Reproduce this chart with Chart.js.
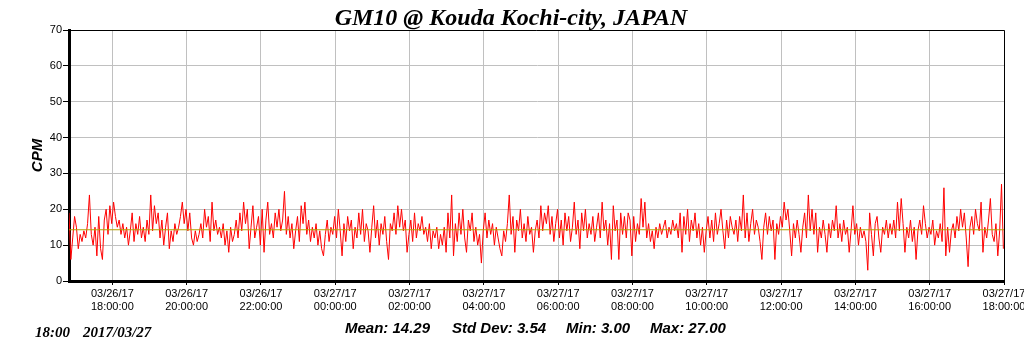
<!DOCTYPE html>
<html>
<head>
<meta charset="utf-8">
<script src="https://cdn.jsdelivr.net/npm/chart.js@4"></script>
<style>
  html, body { margin: 0; padding: 0; background: #fff; }
  #wrap { width: 1024px; height: 351px; }
</style>
</head>
<body>
<div id="wrap"><canvas id="cpmChart" width="1024" height="351"></canvas></div>
<script>
// CPM readings, one every 3 minutes from 03/26/17 16:50 to 03/27/17 18:00
const startMinute = 16 * 60 + 50;   // minutes after 03/26 00:00
const endMinute = 42 * 60;          // 03/27 18:00
const stepMinutes = 3;
const cpmValues = [
  19, 6, 12, 18, 15, 9, 13, 11, 14, 12,
  16, 24, 13, 10, 15, 7, 18, 9, 6, 17,
  20, 13, 21, 16, 22, 18, 15, 17, 13, 16,
  12, 15, 10, 14, 19, 11, 16, 13, 18, 12,
  15, 11, 17, 13, 24, 14, 21, 16, 19, 12,
  17, 10, 15, 19, 9, 14, 11, 16, 13, 15,
  18, 22, 16, 20, 14, 19, 12, 10, 14, 11,
  13, 16, 12, 20, 15, 18, 11, 22, 14, 17,
  13, 15, 12, 16, 10, 14, 8, 15, 11, 13,
  17, 12, 19, 14, 22, 16, 20, 9, 15, 21,
  12, 15,
  18, 10, 20, 8, 17, 22, 13, 16, 12, 19,
  15, 20, 14, 17, 25, 13, 18, 12, 16, 9,
  14, 18, 11, 21, 16, 22, 13, 17, 11, 15,
  12, 16, 10, 14, 9, 7, 13, 17, 11, 15,
  13, 18, 12, 20, 14, 7, 16, 11, 18, 14,
  17, 9, 15, 12, 19, 13, 20, 11, 16, 14,
  8, 15, 21, 12, 17, 10, 16, 13, 18, 11,
  6, 16, 14, 19, 13, 21, 15, 20, 14, 17,
  8, 13, 17, 11, 19, 12, 16, 14, 18, 13,
  15, 11, 16, 9, 14, 12, 15, 9, 13, 10,
  15, 8, 19, 12, 24, 7, 16, 11, 19, 13,
  20, 12, 8, 17, 14, 19, 11, 15, 10, 13,
  5, 14, 19, 12, 17, 13, 16, 10, 15, 12,
  9, 7, 14, 11, 16, 24, 13, 18, 8, 17,
  14, 20, 12, 16, 11, 18, 13, 15, 8, 14,
  17, 12, 21, 14, 19, 16, 21, 13, 18, 11,
  16, 20, 12, 17, 10, 19, 14, 18, 11, 15,
  22, 13, 17, 9, 19, 14, 20, 12, 16, 13,
  18, 11, 15, 19, 12, 22, 14, 17, 10, 16,
  6, 21, 14, 17, 6, 19, 13, 18, 12, 19,
  17, 7, 18, 11, 16, 13, 23, 15, 22, 12,
  16, 11, 14, 9, 15, 12, 16, 13, 15, 17,
  12, 15, 13, 17, 14, 16, 12, 19, 8, 18,
  13, 20, 11, 17, 14, 19, 12, 16, 10, 15,
  8, 14, 18, 12, 17, 11, 19, 13, 16, 20,
  14, 9, 17, 12, 18, 15, 13, 17, 11, 18,
  14, 24, 12, 19, 11, 16, 20, 13, 17, 15,
  11, 6, 15, 19, 13, 18, 14, 17, 6, 16,
  13, 18, 15, 22, 17, 20, 14, 7, 16, 12,
  17, 13, 8, 15, 19, 12, 24, 14, 20, 13,
  19, 8, 15, 12, 17, 13, 8, 16, 12, 17,
  14, 21, 12, 16, 11, 17, 13, 15, 8, 14,
  21, 13, 16, 10, 15, 12, 14, 11, 3, 19,
  13, 7, 16, 18, 12, 8, 15, 13, 17, 12,
  16, 13, 17, 12, 22, 14, 23, 16, 8, 15,
  12, 17, 11, 15, 6, 14, 17, 13, 21, 16,
  12, 15, 13, 17, 10, 14, 12, 16, 11, 26,
  7, 15, 8, 14, 16, 12, 18, 14, 20, 15,
  19, 12, 4, 15, 18, 13, 20, 16, 14, 22,
  8, 15, 12, 17, 23, 13, 11, 16, 7, 14,
  27, 9
];

// summary figures printed under the chart
const statLabels = ['Mean', 'Std Dev', 'Min', 'Max'];
const statValues = [14.29, 3.54, 3.00, 27.00];
const yTicks = [0, 10, 20, 30, 40, 50, 60, 70];
const xTickMinutes = [1080, 1200, 1320, 1440, 1560, 1680, 1800, 1920, 2040, 2160, 2280, 2400, 2520];

const pad = n => String(n).padStart(2, '0');
function tickLabel(v) {
  const day = 26 + Math.floor(v / 1440);
  const m = v % 1440;
  return ['03/' + day + '/17', pad(Math.floor(m / 60)) + ':' + pad(m % 60) + ':00'];
}

const points = cpmValues.map((v, i) => ({ x: startMinute + i * stepMinutes, y: v }));
const meanLine = [{ x: startMinute, y: statValues[0] }, { x: endMinute, y: statValues[0] }];

// title, footer texts + thin top/right frame
const extras = {
  id: 'extras',
  afterDraw(chart) {
    const { ctx, chartArea: a } = chart;
    ctx.save();
    ctx.strokeStyle = '#000';
    ctx.lineWidth = 1;
    ctx.beginPath();
    ctx.moveTo(a.left, a.top + 0.5);
    ctx.lineTo(a.right + 0.5, a.top + 0.5);
    ctx.lineTo(a.right + 0.5, a.bottom);
    ctx.stroke();

    ctx.fillStyle = '#000';
    ctx.textBaseline = 'alphabetic';
    ctx.textAlign = 'center';
    ctx.font = 'italic bold 24px "Liberation Serif"';
    ctx.fillText('GM10 @ Kouda Kochi-city, JAPAN', 511, 25);

    ctx.textAlign = 'left';
    ctx.font = 'italic bold 15px "Liberation Serif"';
    ctx.fillText('18:00', 35, 337);
    ctx.fillText('2017/03/27', 83, 337);

    ctx.font = 'italic bold 15px "Liberation Sans"';
    const xs = [345, 452, 566, 650];
    statLabels.forEach((lab, i) => {
      ctx.fillText(lab + ': ' + statValues[i].toFixed(2), xs[i], 333);
    });
    ctx.restore();
  }
};

new Chart(document.getElementById('cpmChart').getContext('2d'), {
  type: 'line',
  data: {
    datasets: [
      {
        label: 'Mean',
        data: meanLine,
        borderColor: '#b4a000',
        borderWidth: 1,
        pointRadius: 0,
        order: 0
      },
      {
        label: 'CPM',
        data: points,
        borderColor: '#ff0000',
        borderWidth: 1,
        pointRadius: 0,
        tension: 0,
        order: 1
      }
    ]
  },
  options: {
    responsive: false,
    animation: false,
    layout: { padding: { left: 0, right: 20, top: 30, bottom: 30 } },
    plugins: {
      legend: { display: false },
      tooltip: { enabled: false },
      title: { display: false }
    },
    scales: {
      x: {
        type: 'linear',
        min: startMinute,
        max: endMinute,
        afterBuildTicks: s => { s.ticks = xTickMinutes.map(v => ({ value: v })); },
        afterFit: s => { s.height = 40; s.paddingLeft = 0; s.paddingRight = 0; },
        ticks: {
          autoSkip: false,
          maxRotation: 0,
          color: '#000',
          padding: 2,
          font: { family: '"Liberation Sans"', size: 11, lineHeight: 1.2 },
          callback: v => tickLabel(v)
        },
        grid: { color: '#c0c0c0', tickColor: '#000', tickLength: 4 },
        border: { color: '#000', width: 3 }
      },
      y: {
        min: 0,
        max: 70,
        afterBuildTicks: s => { s.ticks = yTicks.map(v => ({ value: v })); },
        afterFit: s => { s.width = 69; s.paddingTop = 0; s.paddingBottom = 0; },
        ticks: {
          color: '#000',
          padding: 1,
          font: { family: '"Liberation Sans"', size: 11 }
        },
        grid: { color: '#c0c0c0', tickColor: '#000', tickLength: 6 },
        border: { color: '#000', width: 3 },
        title: {
          display: true,
          text: 'CPM',
          color: '#000',
          font: { family: '"Liberation Sans"', size: 15, style: 'italic', weight: 'bold', lineHeight: 1.2 },
          padding: { top: 29, bottom: 0 }
        }
      }
    }
  },
  plugins: [extras]
});
</script>
</body>
</html>
